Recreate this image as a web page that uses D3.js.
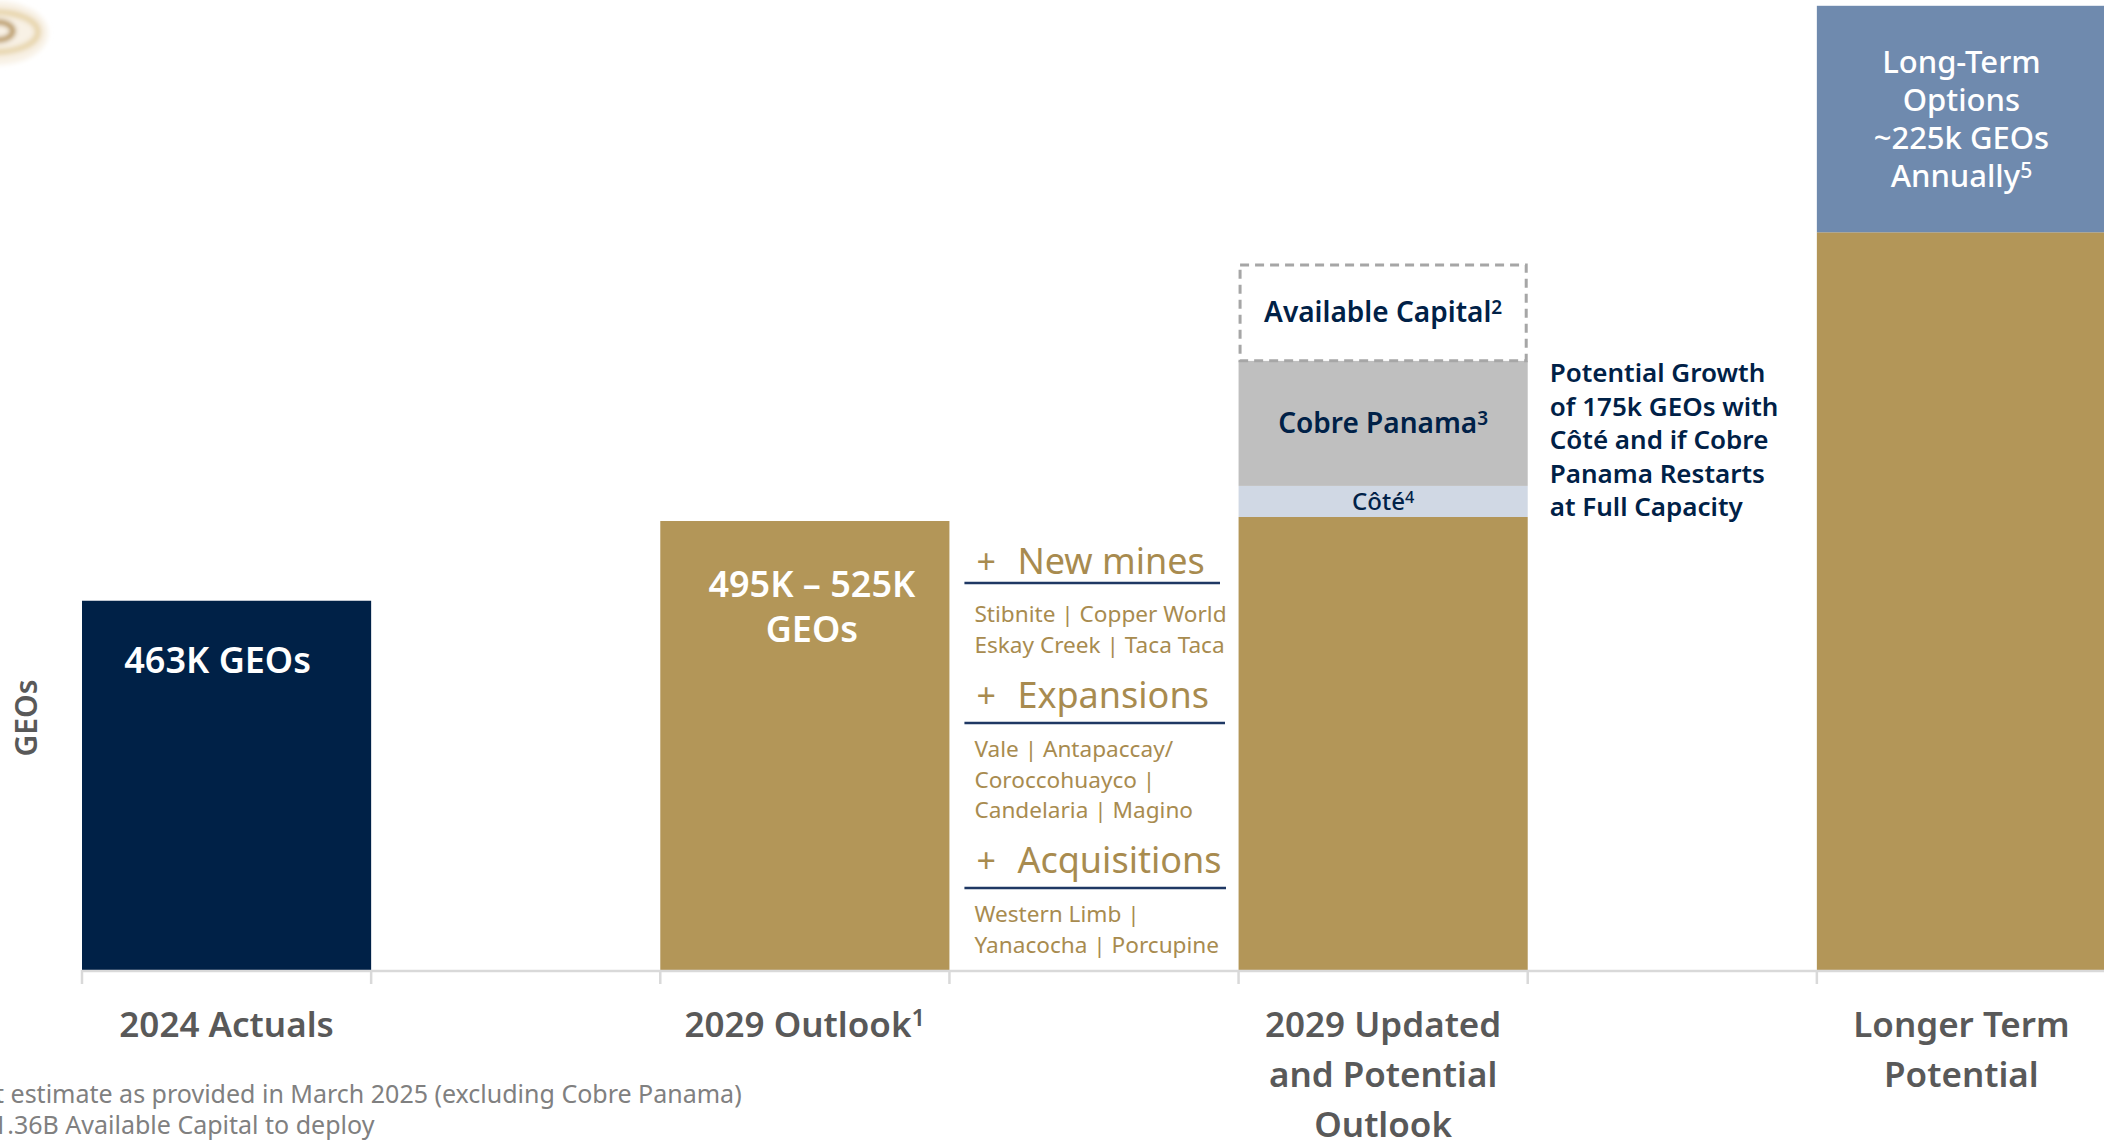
<!DOCTYPE html>
<html><head><meta charset="utf-8">
<script src="https://cdn.jsdelivr.net/npm/d3@7"></script>
<style>
body{margin:0;background:#fff;overflow:hidden}
svg{display:block}
text{font-family:"Noto Sans","Open Sans",sans-serif}
</style>
</head><body>
<svg id="chart" width="2104" height="1141"></svg>
<script>
// ---------- data ----------
const categories = ["2024 Actuals","2029 Outlook","2029 Updated and Potential Outlook","Longer Term Potential"];
const categoryLabelLines = [
  [["2024 Actuals",""]],
  [["2029 Outlook","1"]],
  [["2029 Updated",""],["and Potential",""],["Outlook",""]],
  [["Longer Term",""],["Potential",""]]
];
const segmentKeys = ["base","cote","cobre","capital","longTerm"];
const baseValues     = [463, 563, 568, 925];
const coteValues     = [0, 0, 39, 0];
const cobreValues    = [0, 0, 157, 0];
const capitalValues  = [0, 0, 122, 0];
const longTermValues = [0, 0, 0, 284];
const yMax = 1210;

const barLabels = [["463K GEOs"], ["495K – 525K","GEOs"], [], []];
const segmentLabels = {
  cote: [["Côté","4"]],
  cobre: [["Cobre Panama","3"]],
  capital: [["Available Capital","2"]],
  longTerm: [["Long-Term",""],["Options",""],["~225k GEOs",""],["Annually","5"]]
};
const growthNote = ["Potential Growth","of 175k GEOs with","Côté and if Cobre","Panama Restarts","at Full Capacity"];
const growthHeadings = ["New mines","Expansions","Acquisitions"];
const growthItems = [
  ["Stibnite | Copper World","Eskay Creek | Taca Taca"],
  ["Vale | Antapaccay/","Coroccohuayco |","Candelaria | Magino"],
  ["Western Limb |","Yanacocha | Porcupine"]
];
const footnotes = ["t estimate as provided in March 2025 (excluding Cobre Panama)","1.36B Available Capital to deploy"];
const yAxisTitle = "GEOs";

// ---------- styles ----------
const C = {
  navy:"#002147", gold:"#b39658", goldText:"#a88b4f", grey:"#bfbfbf", cote:"#d0d8e4",
  blue:"#6f8aae", axis:"#d9d9d9", label:"#595959", foot:"#808080", rule:"#1f3864", dash:"#a6a6a6"
};
function segColor(key, i){
  if(key==="base") return i===0 ? C.navy : C.gold;
  return {cote:C.cote, cobre:C.grey, capital:"#ffffff", longTerm:C.blue}[key];
}

// ---------- setup ----------
const W = 2104, H = 1141;
const svg = d3.select("#chart");
svg.append("rect").attr("width",W).attr("height",H).attr("fill","#fff");

const x = d3.scaleBand().domain(categories).range([82, 2106]).paddingInner(0.5).paddingOuter(0);
const y = d3.scaleLinear().domain([0, yMax]).range([970, 5]);
const bw = x.bandwidth();

// logo fragment top-left
const defs = svg.append("defs");
defs.append("filter").attr("id","blur").append("feGaussianBlur").attr("stdDeviation",2.5);
const logo = svg.append("g").attr("filter","url(#blur)");
logo.append("ellipse").attr("cx",-4).attr("cy",33).attr("rx",52).attr("ry",32).attr("fill","#f7f0e2").attr("opacity",0.9);
logo.append("ellipse").attr("cx",-4).attr("cy",32).attr("rx",42).attr("ry",20).attr("fill","none").attr("stroke","#e6d3a8").attr("stroke-width",6);
logo.append("ellipse").attr("cx",-2).attr("cy",31).attr("rx",15).attr("ry",9).attr("fill","none").attr("stroke","#b08a40").attr("stroke-width",5);

// ---------- stacked bars ----------
const table = categories.map((c,i)=>({category:c, base:baseValues[i], cote:coteValues[i], cobre:cobreValues[i], capital:capitalValues[i], longTerm:longTermValues[i]}));
const series = d3.stack().keys(segmentKeys)(table);

const gBars = svg.append("g");
series.forEach(layer=>{
  const key = layer.key;
  layer.forEach((d,i)=>{
    if(d[1]-d[0] <= 0) return;
    const x0 = x(categories[i]), yTop = y(d[1]), yBot = y(d[0]);
    if(key==="capital"){
      gBars.append("rect").attr("x",x0+1.5).attr("y",yTop+1.5).attr("width",bw-3).attr("height",yBot-yTop-1.5)
        .attr("fill","#fff").attr("stroke",C.dash).attr("stroke-width",3).attr("stroke-dasharray","9,6");
    } else {
      gBars.append("rect").attr("x",x0).attr("y",yTop).attr("width",bw).attr("height",yBot-yTop)
        .attr("fill",segColor(key,i));
    }
  });
});

// helper for text with superscripts
function addLine(g, parts, attrs){
  const t = g.append("text");
  Object.entries(attrs).forEach(([k,v])=>t.attr(k,v));
  t.append("tspan").text(parts[0]);
  if(parts[1]) t.append("tspan").attr("dy","-0.45em").attr("font-size","0.68em").text(parts[1]);
  return t;
}

// bar labels
const gLab = svg.append("g");
const barLabelShift = [-9, 7, 0, 0];
barLabels.forEach((lines,i)=>{
  const top = y(baseValues[i]);
  lines.forEach((ln,j)=>{
    gLab.append("text").attr("x",x(categories[i])+bw/2+barLabelShift[i]).attr("y",top+(i===0?72:76)+j*45)
      .attr("text-anchor","middle").attr("fill","#fff").attr("font-size",36).attr("font-weight",600).text(ln);
  });
});

// segment labels
const segFont = {cote:24, cobre:28, capital:28, longTerm:31};
const segLH = {cote:30, cobre:36, capital:36, longTerm:38};
const segWeight = {cote:500, cobre:600, capital:600, longTerm:500};
series.forEach(layer=>{
  const key = layer.key;
  if(!segmentLabels[key]) return;
  layer.forEach((d,i)=>{
    if(d[1]-d[0] <= 0) return;
    const lines = segmentLabels[key];
    const cy = (y(d[0])+y(d[1]))/2;
    const fs = segFont[key], lh = segLH[key];
    const first = cy - (lines.length-1)*lh/2 + fs*0.36;
    lines.forEach((ln,j)=>{
      addLine(gLab, ln, {x:x(categories[i])+bw/2, y:first+j*lh, "text-anchor":"middle",
        fill: key==="longTerm" ? "#fff" : C.navy, "font-size":fs, "font-weight":segWeight[key]});
    });
  });
});

// growth note to the right of bar 3
const noteX = x(categories[2]) + bw + 22;
growthNote.forEach((ln,j)=>{
  gLab.append("text").attr("x",noteX).attr("y",382+j*33.6).attr("fill",C.navy)
    .attr("font-size",26).attr("font-weight",600).text(ln);
});

// growth drivers panel between bar 2 and bar 3
const panelX = x(categories[1]) + bw;
const headY = [574, 708, 873];
const ruleY = [583, 723, 888];
const ruleEnd = [1220, 1225, 1226];
const itemY0 = [622, 757, 922];
growthHeadings.forEach((h,k)=>{
  gLab.append("text").attr("x",panelX+27).attr("y",headY[k]).attr("fill",C.goldText)
    .attr("font-size",34).text("+");
  gLab.append("text").attr("x",panelX+68).attr("y",headY[k]).attr("fill",C.goldText)
    .attr("font-size",36).text(h);
  gLab.append("line").attr("x1",panelX+15).attr("x2",ruleEnd[k]).attr("y1",ruleY[k]).attr("y2",ruleY[k])
    .attr("stroke",C.rule).attr("stroke-width",2.5);
  growthItems[k].forEach((it,j)=>{
    gLab.append("text").attr("x",panelX+25).attr("y",itemY0[k]+j*30.5).attr("fill",C.goldText)
      .attr("font-size",22.6).text(it);
  });
});

// ---------- axis ----------
const gAxis = svg.append("g");
gAxis.append("line").attr("x1",x(categories[0])).attr("x2",W).attr("y1",y(0)+1).attr("y2",y(0)+1)
  .attr("stroke",C.axis).attr("stroke-width",2.5);
const tickXs = [];
categories.forEach(c=>{ tickXs.push(x(c)); tickXs.push(x(c)+bw); });
gAxis.selectAll("line.tick").data(tickXs.filter(v=>v<W)).enter().append("line").attr("class","tick")
  .attr("x1",d=>d).attr("x2",d=>d).attr("y1",y(0)).attr("y2",y(0)+14)
  .attr("stroke",C.axis).attr("stroke-width",2.5);

categoryLabelLines.forEach((lines,i)=>{
  lines.forEach((ln,j)=>{
    addLine(gAxis, ln, {x:x(categories[i])+bw/2, y:1037+j*50, "text-anchor":"middle",
      fill:C.label, "font-size":35, "font-weight":600});
  });
});

// y axis title
svg.append("text").attr("transform","translate(37,718) rotate(-90)").attr("text-anchor","middle")
  .attr("fill",C.label).attr("font-size",30).attr("font-weight",600).text(yAxisTitle);

// footnotes
svg.append("text").attr("x",-5).attr("y",1103).attr("fill",C.foot).attr("font-size",25).text(footnotes[0]);
svg.append("text").attr("x",-7).attr("y",1134).attr("fill",C.foot).attr("font-size",25).text(footnotes[1]);
</script>
</body></html>
